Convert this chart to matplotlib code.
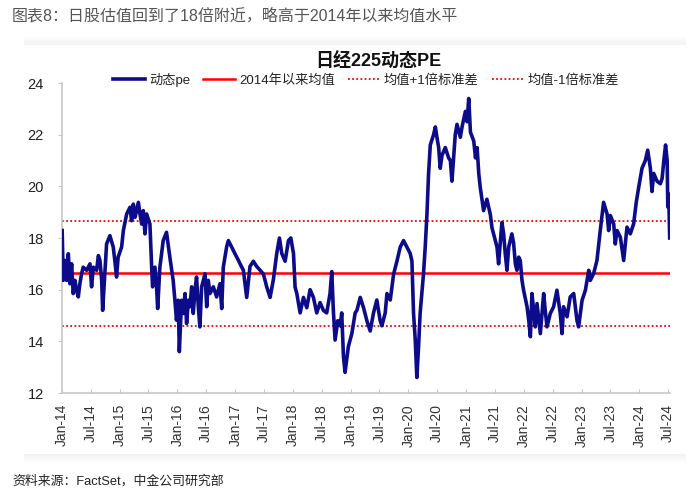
import matplotlib
matplotlib.use("Agg")
import matplotlib.pyplot as plt
from matplotlib.patches import Rectangle
from matplotlib.lines import Line2D
import pandas as pd

plt.rcParams['font.family'] = ['Liberation Sans', 'Noto Sans CJK SC', 'DejaVu Sans']

# ---------------- data ----------------
dates = [
    # 2014 - Jan 2017
    "2014-01-02", "2014-01-09", "2014-01-20", "2014-01-30", "2014-02-10", "2014-02-20", "2014-03-03",
    "2014-03-13", "2014-03-24", "2014-04-03", "2014-04-14", "2014-04-24", "2014-05-05", "2014-05-15",
    "2014-06-06", "2014-06-27", "2014-07-07", "2014-07-18", "2014-08-08", "2014-08-19", "2014-08-29",
    "2014-09-09", "2014-09-15", "2014-09-26", "2014-10-10", "2014-10-31", "2014-11-21", "2014-12-01",
    "2014-12-12", "2014-12-22", "2015-01-13", "2015-01-24", "2015-02-14", "2015-03-07", "2015-03-17",
    "2015-03-28", "2015-04-08", "2015-04-29", "2015-05-09", "2015-05-20", "2015-05-30", "2015-06-10",
    "2015-06-20", "2015-07-11", "2015-07-22", "2015-07-28", "2015-08-12", "2015-08-22", "2015-08-29",
    "2015-09-12", "2015-10-03", "2015-10-24", "2015-11-14", "2015-12-05", "2015-12-16", "2015-12-26",
    "2016-01-06", "2016-01-13", "2016-01-27", "2016-02-07", "2016-02-18", "2016-02-28", "2016-03-10",
    "2016-03-20", "2016-03-31", "2016-04-10", "2016-04-21", "2016-05-01", "2016-05-12", "2016-05-22",
    "2016-06-02", "2016-06-13", "2016-06-23", "2016-07-04", "2016-07-14", "2016-07-25", "2016-08-15",
    "2016-09-05", "2016-09-26", "2016-10-07", "2016-10-17", "2016-11-07", "2016-11-18", "2016-12-09",
    "2016-12-30", "2017-01-21", "2017-01-31",
    # Feb 2017 - Mar 2021
    "2017-02-21", "2017-03-14", "2017-04-04", "2017-04-25", "2017-05-16", "2017-06-07", "2017-06-28",
    "2017-07-19", "2017-08-09", "2017-08-30", "2017-09-20", "2017-10-07", "2017-10-22", "2017-11-12",
    "2017-12-03", "2017-12-18", "2018-01-04", "2018-01-14", "2018-01-25", "2018-02-15", "2018-03-08",
    "2018-03-29", "2018-04-19", "2018-05-10", "2018-05-31", "2018-06-21", "2018-07-12", "2018-08-02",
    "2018-08-23", "2018-09-03", "2018-09-13", "2018-09-24", "2018-10-11", "2018-10-26", "2018-11-05",
    "2018-11-16", "2018-11-26", "2018-12-17", "2019-01-08", "2019-01-29", "2019-02-09", "2019-03-02",
    "2019-03-23", "2019-04-13", "2019-05-04", "2019-05-25", "2019-06-15", "2019-07-06", "2019-07-17",
    "2019-08-07", "2019-08-18", "2019-09-08", "2019-09-29", "2019-10-20", "2019-11-10", "2019-12-01",
    "2019-12-22", "2020-01-12", "2020-01-23", "2020-02-02", "2020-02-13", "2020-02-23", "2020-03-05",
    "2020-03-15", "2020-04-05", "2020-04-16", "2020-04-27", "2020-05-07", "2020-05-18", "2020-06-08",
    "2020-06-19", "2020-06-29", "2020-07-10", "2020-07-20", "2020-07-31", "2020-08-21", "2020-09-11",
    "2020-09-22", "2020-10-02", "2020-10-23", "2020-11-03", "2020-11-24", "2020-12-05", "2020-12-26",
    "2021-01-06", "2021-01-16", "2021-01-27", "2021-02-17", "2021-02-28", "2021-03-10", "2021-03-21",
    # Mar 2021 - Nov 2023
    "2021-03-30", "2021-04-20", "2021-05-11", "2021-06-02", "2021-06-12", "2021-07-03", "2021-07-14",
    "2021-07-24", "2021-08-14", "2021-08-25", "2021-09-04", "2021-09-15", "2021-09-26", "2021-10-16",
    "2021-10-27", "2021-11-07", "2021-11-17", "2021-11-28", "2021-12-08", "2021-12-19", "2021-12-29",
    "2022-01-20", "2022-01-31", "2022-02-10", "2022-02-20", "2022-03-03", "2022-03-13", "2022-03-24",
    "2022-04-14", "2022-05-05", "2022-05-15", "2022-05-26", "2022-06-16", "2022-07-07", "2022-07-28",
    "2022-08-18", "2022-08-29", "2022-09-08", "2022-09-30", "2022-10-20", "2022-11-11", "2022-12-02",
    "2022-12-12", "2023-01-03", "2023-01-24", "2023-02-14", "2023-02-24", "2023-03-17", "2023-04-07",
    "2023-04-28", "2023-05-19", "2023-06-10", "2023-06-20", "2023-07-01", "2023-07-22", "2023-08-01",
    "2023-08-12", "2023-09-02", "2023-09-23", "2023-10-14", "2023-11-04",
    # Nov 2023 - Jul 2024
    "2023-11-25", "2023-12-12", "2023-12-27", "2024-01-17", "2024-02-07", "2024-02-22", "2024-03-10",
    "2024-03-20", "2024-03-31", "2024-04-21", "2024-05-12", "2024-05-23", "2024-06-03", "2024-06-14",
    "2024-06-24", "2024-06-28", "2024-07-04", "2024-07-10",
]
pe = [
    # 2014 - Jan 2017
    18.29, 16.36, 17.13, 16.36, 17.39, 16.23, 17.0,
    15.85, 16.36, 15.98, 15.72, 16.23, 16.62, 16.87,
    16.75, 17.0, 16.11, 16.87, 16.75, 17.32, 17.13,
    16.36, 15.2, 16.36, 17.77, 18.09, 17.65, 17.13,
    16.49, 17.26, 17.65, 18.29, 18.93, 19.19, 18.67,
    19.31, 18.8, 19.38, 18.93, 18.54, 19.06, 18.16,
    18.93, 18.54, 16.87, 16.11, 16.87, 16.11, 15.27,
    16.87, 17.9, 18.22, 17.26, 16.36, 15.59, 14.82,
    15.59, 13.6, 15.59, 15.08, 15.85, 14.69, 15.59,
    15.34, 16.11, 15.08, 15.98, 16.49, 15.34, 14.56,
    16.11, 16.36, 16.62, 15.34, 16.36, 15.85, 16.11,
    15.72, 16.23, 15.27, 16.87, 17.65, 17.9, 17.65,
    17.39, 17.13, 17.0,
    # Feb 2017 - Mar 2021
    16.75, 15.7, 16.9, 17.1, 16.9, 16.75, 16.6,
    16.1, 15.7, 16.4, 17.4, 18.0, 17.4, 17.1,
    17.9, 18.0, 17.4, 16.1, 15.85, 15.1, 15.7,
    15.3, 16.0, 15.7, 15.1, 15.5, 15.2, 15.1,
    15.85, 16.7, 15.2, 14.05, 14.8, 14.6, 15.1,
    13.4, 12.8, 13.8, 14.3, 15.1, 15.2, 15.7,
    15.3, 14.8, 14.4, 15.1, 15.6, 14.8, 14.6,
    15.1, 15.85, 15.6, 16.6, 17.1, 17.65, 17.9,
    17.65, 17.4, 17.1, 15.1, 14.05, 12.6, 13.8,
    15.1, 16.6, 17.65, 18.93, 20.47, 21.6, 22.0,
    22.3, 21.9, 21.5, 20.7, 21.2, 21.5, 21.1,
    21.0, 20.2, 22.0, 22.4, 21.9, 22.3, 22.9,
    22.5, 23.4, 22.1, 21.75, 21.1, 21.5, 20.47,
    # Mar 2021 - Nov 2023
    19.96, 19.06, 19.5, 18.9, 18.4, 17.9, 17.65,
    17.0, 18.6, 18.16, 17.4, 16.75, 17.65, 18.16,
    17.8, 17.0, 16.75, 17.26, 17.13, 16.36, 15.98,
    15.34, 14.8, 14.18, 15.85, 15.2, 14.56, 15.46,
    14.3, 15.85, 15.2, 14.56, 15.08, 15.34, 15.98,
    15.08, 14.3, 15.34, 14.95, 15.72, 15.85, 14.8,
    14.56, 15.59, 15.98, 16.75, 16.36, 16.62, 17.13,
    18.29, 19.38, 18.93, 18.29, 18.87, 18.54, 17.77,
    18.29, 18.03, 17.13, 18.42, 18.16,
    # Nov 2023 - Jul 2024
    18.55, 19.4, 19.96, 20.7, 21.0, 21.4, 20.7,
    19.8, 20.5, 20.2, 20.1, 20.3, 21.0, 21.6,
    21.0, 19.2, 19.7, 18.0,
]
mean_since_2014 = 16.64
std_since_2014 = 2.03

tick_labels = ["Jan-14", "Jul-14", "Jan-15", "Jul-15", "Jan-16", "Jul-16", "Jan-17", "Jul-17",
               "Jan-18", "Jul-18", "Jan-19", "Jul-19", "Jan-20", "Jul-20", "Jan-21", "Jul-21",
               "Jan-22", "Jul-22", "Jan-23", "Jul-23", "Jan-24", "Jul-24"]
y_ticks = [12, 14, 16, 18, 20, 22, 24]

# ---------------- figure ----------------
W, H = 693, 494
fig = plt.figure(figsize=(W / 100, H / 100), dpi=100)
fig.patch.set_facecolor("white")

# soft card shadow bands (drawn behind axes)
for i in range(9):
    a = 0.05 * (9 - i) / 9
    fig.patches.append(Rectangle((0.035, 1 - (45 - i) / H), 0.955, 1 / H, transform=fig.transFigure,
                                 facecolor="black", alpha=a, edgecolor="none", zorder=-5))
    fig.patches.append(Rectangle((0.035, 1 - (455 + i) / H), 0.955, 1 / H, transform=fig.transFigure,
                                 facecolor="black", alpha=a, edgecolor="none", zorder=-5))

ax = fig.add_axes([62 / W, 1 - 393 / H, (670 - 62) / W, (393 - 83) / H])
ax.set_zorder(2)
ax.patch.set_alpha(0)

x = pd.to_datetime(dates)
ax.axhline(mean_since_2014, color="#ff0000", lw=1.8, zorder=2)
ax.axhline(mean_since_2014 + std_since_2014, color="#ff0000", lw=1.3, ls=(0, (1, 1.3)), zorder=2)
ax.axhline(mean_since_2014 - std_since_2014, color="#ff0000", lw=1.3, ls=(0, (1, 1.3)), zorder=2)
ax.plot(x, pe, color="#0c0c8a", lw=2.6, zorder=3, solid_joinstyle="round")

ax.set_ylim(12, 24)
ax.set_yticks(y_ticks)
ax.set_yticklabels([str(v) for v in y_ticks], fontsize=10.5, color="#222222")

tick_dates = pd.date_range("2014-01-01", periods=len(tick_labels), freq="6MS")
ax.set_xticks(tick_dates)
ax.set_xticklabels(tick_labels, rotation=90, fontsize=10, color="#333333")
ax.set_xlim(pd.Timestamp("2014-01-01"), pd.Timestamp("2024-07-12"))

for s in ["top", "right"]:
    ax.spines[s].set_visible(False)
for s in ["left", "bottom"]:
    ax.spines[s].set_color("#c8c8c8")
    ax.spines[s].set_linewidth(1.2)
ax.tick_params(axis="y", direction="out", length=3, color="#c8c8c8", pad=10)
ax.tick_params(axis="x", direction="in", length=3, color="#c8c8c8", pad=8)

# legend
handles = [
    Line2D([], [], color="#0c0c8a", lw=2.6),
    Line2D([], [], color="#ff0000", lw=1.8),
    Line2D([], [], color="#ff0000", lw=1.3, ls=(0, (1, 1.3))),
    Line2D([], [], color="#ff0000", lw=1.3, ls=(0, (1, 1.3))),
]
labels = ["动态pe", "2014年以来均值", "均值+1倍标准差", "均值-1倍标准差"]
fig.legend(handles, labels, loc="center", bbox_to_anchor=(366 / W, 1 - 80 / H), ncol=4,
           frameon=False, fontsize=9.5, handlelength=2.4, handletextpad=0.3, columnspacing=1.0,
           labelcolor="#222222")

fig.text(378 / W, 1 - 62 / H, "日经225动态PE", ha="center", va="center", fontsize=13,
         fontweight="bold", color="#111111")
fig.text(12 / W, 1 - 16 / H, "图表8：日股估值回到了18倍附近，略高于2014年以来均值水平",
         ha="left", va="center", fontsize=11.5, color="#555555")
fig.text(12 / W, 1 - 481 / H, "资料来源：FactSet，中金公司研究部", ha="left", va="center",
         fontsize=9.3, color="#222222")

fig.savefig("out.png", dpi=100)
